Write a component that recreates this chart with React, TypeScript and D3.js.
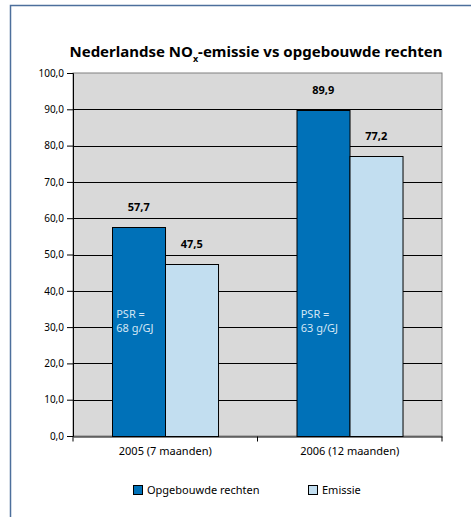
import { useEffect, useRef } from "react";
import * as d3 from "d3";

const categories = ["2005 (7 maanden)", "2006 (12 maanden)"];
const seriesNames = ["Opgebouwde rechten", "Emissie"];
const opgebouwd = [57.7, 89.9];
const emissie = [47.5, 77.2];
const psrLabels = ["68 g/GJ", "63 g/GJ"];
const yTicks = [0, 10, 20, 30, 40, 50, 60, 70, 80, 90, 100];

const colors = ["#0071b8", "#c2def0"];
const font = "'Noto Sans', sans-serif";

export default function App() {
  const ref = useRef<SVGSVGElement>(null);

  useEffect(() => {
    const svg = d3.select(ref.current);
    svg.selectAll("*").remove();

    const width = 471;
    const height = 517;
    const margin = { top: 73, right: 29, bottom: 81, left: 73 };

    // frame
    svg.append("rect")
      .attr("x", 10.5).attr("y", 5.5)
      .attr("width", width).attr("height", height)
      .attr("fill", "#fff")
      .attr("stroke", "#4d6f9c").attr("stroke-width", 1.5);

    const x0 = d3.scaleBand().domain(categories).range([margin.left, width - margin.right]).paddingInner(0).paddingOuter(0);
    const x1 = d3.scaleBand().domain(seriesNames).range([0, x0.bandwidth()]).paddingInner(0).paddingOuter(0.74);
    const y = d3.scaleLinear().domain([0, 100]).range([height - margin.bottom, margin.top]);

    const left = margin.left, right = width - margin.right;

    // plot background
    svg.append("rect")
      .attr("x", left).attr("y", y(100))
      .attr("width", right - left).attr("height", y(0) - y(100))
      .attr("fill", "#d9d9d9")
      .attr("stroke", "#808080");

    // gridlines
    svg.append("g")
      .selectAll("line")
      .data(yTicks.filter(d => d > 0 && d < 100))
      .join("line")
      .attr("x1", left).attr("x2", right)
      .attr("y1", d => Math.round(y(d)) + 0.5).attr("y2", d => Math.round(y(d)) + 0.5)
      .attr("stroke", "#000");

    // bars
    const data = categories.map((c, i) => ({ c, vals: [opgebouwd[i], emissie[i]] }));
    const groups = svg.append("g").selectAll("g").data(data).join("g")
      .attr("transform", d => `translate(${x0(d.c)},0)`);

    groups.selectAll("rect")
      .data(d => d.vals.map((v, j) => ({ v, s: seriesNames[j], j })))
      .join("rect")
      .attr("x", d => Math.round(x1(d.s)!) + 0.5)
      .attr("y", d => Math.round(y(d.v)) + 0.5)
      .attr("width", x1.bandwidth())
      .attr("height", d => Math.round(y(0)) - Math.round(y(d.v)))
      .attr("fill", d => colors[d.j])
      .attr("stroke", "#000");

    groups.selectAll("text.val")
      .data(d => d.vals.map((v, j) => ({ v, s: seriesNames[j] })))
      .join("text")
      .attr("class", "val")
      .attr("x", d => x1(d.s)! + x1.bandwidth() / 2)
      .attr("y", d => y(d.v) - 16)
      .attr("text-anchor", "middle")
      .attr("font-family", font).attr("font-size", 11).attr("font-weight", "bold")
      .text(d => d3.format(".1f")(d.v).replace(".", ","));

    // PSR labels
    const psr = groups.append("text")
      .attr("font-family", font).attr("font-size", 11)
      .attr("fill", "#d3e6f5");
    psr.append("tspan")
      .attr("x", x1(seriesNames[0])! + 4).attr("y", y(30) - 9)
      .text("PSR =");
    psr.append("tspan")
      .attr("x", x1(seriesNames[0])! + 4).attr("y", y(30) + 5)
      .text((d, i) => psrLabels[i]);

    // y axis
    const yAxis = svg.append("g")
      .attr("transform", `translate(${left},0)`)
      .call(d3.axisLeft(y).tickValues(yTicks).tickSize(6).tickPadding(3).tickFormat(d => d3.format(".1f")(d as number).replace(".", ",")));
    yAxis.select(".domain").attr("stroke", "#000");
    yAxis.selectAll("text").attr("font-family", font).attr("font-size", 10).attr("fill", "#000");

    // x axis
    const xAxis = svg.append("g")
      .attr("transform", `translate(0,${Math.round(y(0)) + 0.5})`)
      .call(d3.axisBottom(x0).tickSize(0).tickPadding(11));
    xAxis.select(".domain").attr("stroke", "#000");
    xAxis.selectAll("text").attr("font-family", font).attr("font-size", 11).attr("fill", "#000");
    xAxis.selectAll("line.sep")
      .data([left, left + x0.step(), right])
      .join("line")
      .attr("class", "sep")
      .attr("x1", d => d).attr("x2", d => d)
      .attr("y1", 0).attr("y2", 5)
      .attr("stroke", "#000");

    // title
    const title = svg.append("text")
      .attr("x", 256).attr("y", 57)
      .attr("text-anchor", "middle")
      .attr("font-family", font).attr("font-size", 15).attr("font-weight", "bold");
    title.append("tspan").text("Nederlandse NO");
    title.append("tspan").attr("font-size", 9).attr("dy", 5).text("x");
    title.append("tspan").attr("dy", -5).text("-emissie vs opgebouwde rechten");

    // legend
    const legendX = [133, 308];
    const legend = svg.append("g").selectAll("g").data(seriesNames).join("g")
      .attr("transform", (d, i) => `translate(${legendX[i]},485)`);
    legend.append("rect")
      .attr("x", 0.5).attr("y", 0.5).attr("width", 9).attr("height", 9)
      .attr("fill", (d, i) => colors[i]).attr("stroke", "#000");
    legend.append("text")
      .attr("x", 14).attr("y", 9)
      .attr("font-family", font).attr("font-size", 11)
      .text(d => d);
  }, []);

  return (
    <svg ref={ref} width={471} height={517}
      style={{ position: "absolute", left: 0, top: 0, display: "block" }} />
  );
}
